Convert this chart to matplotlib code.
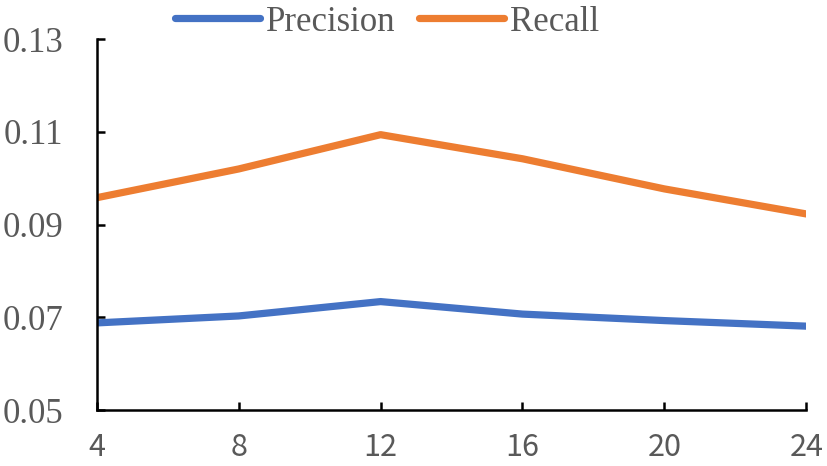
import matplotlib
matplotlib.use('Agg')
import matplotlib.pyplot as plt

# values
k_values = [4, 8, 12, 16, 20, 24]
precision = [0.0688, 0.0703, 0.0734, 0.0707, 0.0693, 0.0681]
recall = [0.0958, 0.1020, 0.1094, 0.1042, 0.0977, 0.0923]
y_ticks = [0.05, 0.07, 0.09, 0.11, 0.13]

text_color = '#595959'

fig = plt.figure(figsize=(8.27, 4.66), dpi=100)
ax = fig.add_axes([0.117, 0.12, 0.858, 0.796])

ax.plot(k_values, precision, color='#4472C4', linewidth=5.2, label='Precision')
ax.plot(k_values, recall, color='#ED7D31', linewidth=5.2, label='Recall')

ax.set_xlim(4, 24)
ax.set_ylim(0.05, 0.13)
ax.set_xticks(k_values)
ax.set_yticks(y_ticks)
ax.set_yticklabels([f'{v:.2f}' for v in y_ticks])

for side in ['top', 'right']:
    ax.spines[side].set_visible(False)
for side in ['left', 'bottom']:
    ax.spines[side].set_linewidth(1.8)
    ax.spines[side].set_color('black')

ax.tick_params(axis='y', direction='in', length=6, width=1.8, pad=24,
               labelsize=25, labelcolor=text_color)
ax.tick_params(axis='x', direction='in', length=6, width=1.8, pad=16,
               labelsize=22, labelcolor=text_color)
for lab in ax.get_yticklabels():
    lab.set_family('Liberation Serif')
for lab in ax.get_xticklabels():
    lab.set_family(['Noto Sans CJK JP', 'DejaVu Sans'])

leg = fig.legend(loc='upper center', bbox_to_anchor=(0.468, 1.055), ncol=2,
                 frameon=False, handlelength=2.45, handletextpad=0.15,
                 columnspacing=0.7,
                 prop={'family': 'Liberation Serif', 'size': 25})
for t in leg.get_texts():
    t.set_color(text_color)
for ln in leg.get_lines():
    ln.set_solid_capstyle('round')

fig.savefig('out.png', dpi=100)
